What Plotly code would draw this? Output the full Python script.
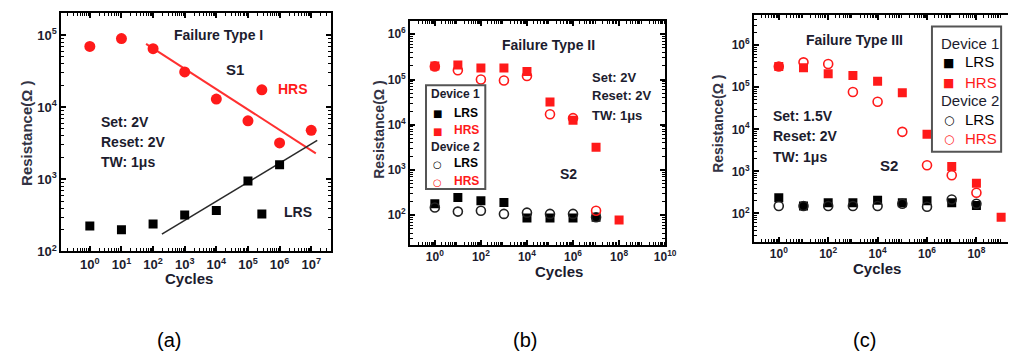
import plotly.graph_objects as go

W, H = 1016, 359

# ---------------- Data ----------------
# Panel (a) - Failure Type I
a_hrs_cycles = [1, 10, 1e2, 1e3, 1e4, 1e5, 2.75e5, 1e6, 1e7]
a_hrs = [7.0e4, 9.0e4, 6.5e4, 3.1e4, 1.3e4, 6.5e3, 1.75e4, 3.2e3, 4.8e3]
a_lrs_cycles = [1, 10, 1e2, 1e3, 1e4, 1e5, 2.75e5, 1e6]
a_lrs = [225, 200, 240, 320, 370, 950, 330, 1600]
a_hrs_fit_x = [60, 1.4e7]
a_hrs_fit_y = [7.6e4, 2.3e3]
a_lrs_fit_x = [190, 1.55e7]
a_lrs_fit_y = [174, 3470]

# Panel (b) - Failure Type II
b_cycles = [1, 1e1, 1e2, 1e3, 1e4, 1e5, 1e6, 1e7, 1e8]
b_d1_hrs = [2.0e5, 2.1e5, 1.8e5, 1.8e5, 1.5e5, 3.2e4, 1.26e4, 3.2e3, 78]
b_d1_lrs = [180, 245, 210, 190, 87, 87, 87, 90]
b_d2_hrs = [1.95e5, 1.6e5, 1.0e5, 9.5e4, 1.2e5, 1.7e4, 1.4e4, 125]
b_d2_lrs = [148, 120, 125, 107, 114, 107, 107, 90]

# Panel (c) - Failure Type III
c_cycles = [1, 1e1, 1e2, 1e3, 1e4, 1e5, 1e6, 1e7, 1e8, 1e9]
c_d1_hrs = [3.1e5, 2.9e5, 2.1e5, 1.9e5, 1.38e5, 7.4e4, 7.6e3, 1.3e3, 520, 81]
c_d2_hrs = [3.1e5, 3.9e5, 3.55e5, 7.7e4, 4.5e4, 8.7e3, 1.4e3, 810, 310]
c_d1_lrs = [235, 150, 180, 180, 205, 180, 200, 180, 155]
c_d2_lrs = [150, 150, 150, 150, 150, 170, 145, 215, 170]

# Tick labels (exponents of 10)
a_xtick_exp = [0, 1, 2, 3, 4, 5, 6, 7]
a_ytick_exp = [2, 3, 4, 5]
b_xtick_exp = [0, 2, 4, 6, 8, 10]
c_xtick_exp = [0, 2, 4, 6, 8]
bc_ytick_exp = [2, 3, 4, 5, 6]

# Legend entries for panels (b) and (c)
legend_groups = ["Device 1", "Device 2"]
legend_states = ["LRS", "HRS"]

RED = "#ff1a1a"
BLK = "#000000"
TXT = "#1c1c2e"
FONT = "Liberation Sans"
SYMFONT = "DejaVu Sans"


def px(x):
    return x / W


def py(y):
    return 1 - y / H


def tv(exps):
    return [10.0 ** e for e in exps]


def tt(exps):
    return ["<b>10<sup>%d</sup></b>" % e for e in exps]


def minor_vals(lo, hi):
    out = []
    for d in range(lo, hi):
        for m in range(2, 10):
            out.append(m * 10.0 ** d)
    return out


fig = go.Figure()

# ---- Panel (a)
fig.add_trace(go.Scatter(x=a_hrs_fit_x, y=a_hrs_fit_y, mode="lines",
                         line=dict(color="#ff3030", width=2), showlegend=False,
                         xaxis="x", yaxis="y"))
fig.add_trace(go.Scatter(x=a_lrs_fit_x, y=a_lrs_fit_y, mode="lines",
                         line=dict(color="#2a2a2a", width=1.6), showlegend=False,
                         xaxis="x", yaxis="y"))
fig.add_trace(go.Scatter(x=a_hrs_cycles, y=a_hrs, mode="markers",
                         marker=dict(symbol="circle", size=11, color=RED),
                         showlegend=False, xaxis="x", yaxis="y"))
fig.add_trace(go.Scatter(x=a_lrs_cycles, y=a_lrs, mode="markers",
                         marker=dict(symbol="square", size=9, color=BLK),
                         showlegend=False, xaxis="x", yaxis="y"))


def add_panel(xa, ya, cyc, d1l, d1h, d2l, d2h, ms):
    fig.add_trace(go.Scatter(x=cyc[:len(d1l)], y=d1l, mode="markers",
                             marker=dict(symbol="square", size=ms, color=BLK),
                             showlegend=False, xaxis=xa, yaxis=ya))
    fig.add_trace(go.Scatter(x=cyc[:len(d1h)], y=d1h, mode="markers",
                             marker=dict(symbol="square", size=ms, color=RED),
                             showlegend=False, xaxis=xa, yaxis=ya))
    fig.add_trace(go.Scatter(x=cyc[:len(d2l)], y=d2l, mode="markers",
                             marker=dict(symbol="circle-open", size=ms, color="#222222",
                                         line=dict(width=1.6)),
                             showlegend=False, xaxis=xa, yaxis=ya))
    fig.add_trace(go.Scatter(x=cyc[:len(d2h)], y=d2h, mode="markers",
                             marker=dict(symbol="circle-open", size=ms, color=RED,
                                         line=dict(width=1.6)),
                             showlegend=False, xaxis=xa, yaxis=ya))


add_panel("x2", "y2", b_cycles, b_d1_lrs, b_d1_hrs, b_d2_lrs, b_d2_hrs, 9)
add_panel("x3", "y3", c_cycles, c_d1_lrs, c_d1_hrs, c_d2_lrs, c_d2_hrs, 9)


def axis(domain, rng, exps, minor_range, anchor, mirror="allticks", size=13):
    return dict(type="log", domain=domain, range=rng, tickmode="array",
                tickvals=tv(exps), ticktext=tt(exps), ticks="inside", ticklen=5,
                tickwidth=1.5, tickcolor="black", showline=True, linecolor="black",
                linewidth=2, mirror=mirror, showgrid=False, zeroline=False,
                anchor=anchor,
                tickfont=dict(family=FONT, size=size, color=TXT),
                minor=dict(tickmode="array", tickvals=minor_vals(*minor_range),
                           ticks="inside", ticklen=3, tickwidth=1,
                           tickcolor="black", showgrid=False))


xa = axis([px(54), px(327)], [-0.9, 7.63], a_xtick_exp, (-1, 8), "y")
ya = axis([py(249), py(5)], [2, 5.31], a_ytick_exp, (2, 6), "x")
xb = axis([px(407), px(665)], [-1.07, 10], b_xtick_exp, (-2, 10), "y2", size=12)
yb = axis([py(242), py(13)], [1.35, 6.3], bc_ytick_exp, (1, 7), "x2", size=12)
xc = axis([px(755), 1.0], [-1.0, 9.44], c_xtick_exp, (-1, 10), "y3", size=12)
yc = axis([py(239), py(7)], [1.33, 6.72], bc_ytick_exp, (1, 7), "x3",
          mirror=False, size=12)

fig.update_layout(
    width=W, height=H, margin=dict(l=0, r=0, t=0, b=0),
    paper_bgcolor="white", plot_bgcolor="white", showlegend=False,
    xaxis=xa, yaxis=ya, xaxis2=xb, yaxis2=yb, xaxis3=xc, yaxis3=yc,
)

ann = []
shapes = []


def txt(x, y, s, size=14, color=TXT, xanchor="center", angle=0, bold=True, family=FONT):
    ann.append(dict(x=px(x), y=py(y), xref="paper", yref="paper",
                    text=("<b>%s</b>" % s) if bold else s, showarrow=False,
                    xanchor=xanchor, yanchor="middle", textangle=angle,
                    font=dict(family=family, size=size, color=color)))


def manual_legend(x0, y0, x1, y1, tx, mx, lx, rows, size, symsize, bold):
    shapes.append(dict(type="rect", xref="paper", yref="paper",
                       x0=px(x0), x1=px(x1), y0=py(y1), y1=py(y0),
                       line=dict(color="#555555", width=2), fillcolor="white"))
    i = 0
    for g, grp in enumerate(legend_groups):
        txt(tx, rows[i], grp, size, TXT, xanchor="left", bold=bold)
        i += 1
        for st in legend_states:
            col = RED if st == "HRS" else BLK
            glyph = "■" if g == 0 else "○"
            txt(mx, rows[i] + 1, glyph, symsize, col, bold=(g == 1), family=SYMFONT)
            txt(lx, rows[i], st, size, col, xanchor="left", bold=bold)
            i += 1


# Panel (a) texts
txt(213, 28, "Failure Type I", 14)
txt(230, 63, "S1", 15)
txt(288, 83, "HRS", 14, RED)
txt(293, 209, "LRS", 14)
txt(92, 117, "Set: 2V", 14, xanchor="left")
txt(92, 137, "Reset: 2V", 14, xanchor="left")
txt(92, 157, "TW: 1μs", 14, xanchor="left")
txt(18, 128, "Resistance(Ω )", 15, "#333344", angle=-90)
txt(183, 277, "Cycles", 15)

# Panel (b) texts
txt(547, 38, "Failure Type II", 14)
txt(589, 71, "Set: 2V", 13, xanchor="left")
txt(589, 90, "Reset: 2V", 13, xanchor="left")
txt(589, 110, "TW: 1μs", 13, xanchor="left")
txt(567, 170, "S2", 14)
txt(376, 125, "Resistance(Ω )", 14, "#333344", angle=-90)
txt(558, 269, "Cycles", 15)
manual_legend(423, 79, 483, 185, 426, 435, 449, [88, 107, 125, 142, 159, 177], 12, 10, True)

# Panel (c) texts
txt(857, 33, "Failure Type III", 14)
txt(772, 110, "Set: 1.5V", 14, xanchor="left")
txt(772, 131, "Reset: 2V", 14, xanchor="left")
txt(772, 152, "TW: 1μs", 14, xanchor="left")
txt(892, 161, "S2", 15)
txt(719, 119, "Resistance(Ω )", 14, "#333344", angle=-90)
txt(879, 266, "Cycles", 15)
manual_legend(935, 19, 1005, 147, 942, 952, 966, [36, 55, 76, 95, 114, 133], 15, 12, False)

# Subfigure labels
txt(163, 340, "(a)", 20, "black", bold=False)
txt(523, 340, "(b)", 20, "black", bold=False)
txt(867, 340, "(c)", 20, "black", bold=False)

fig.update_layout(annotations=ann, shapes=shapes)

fig.write_html("out.html")
